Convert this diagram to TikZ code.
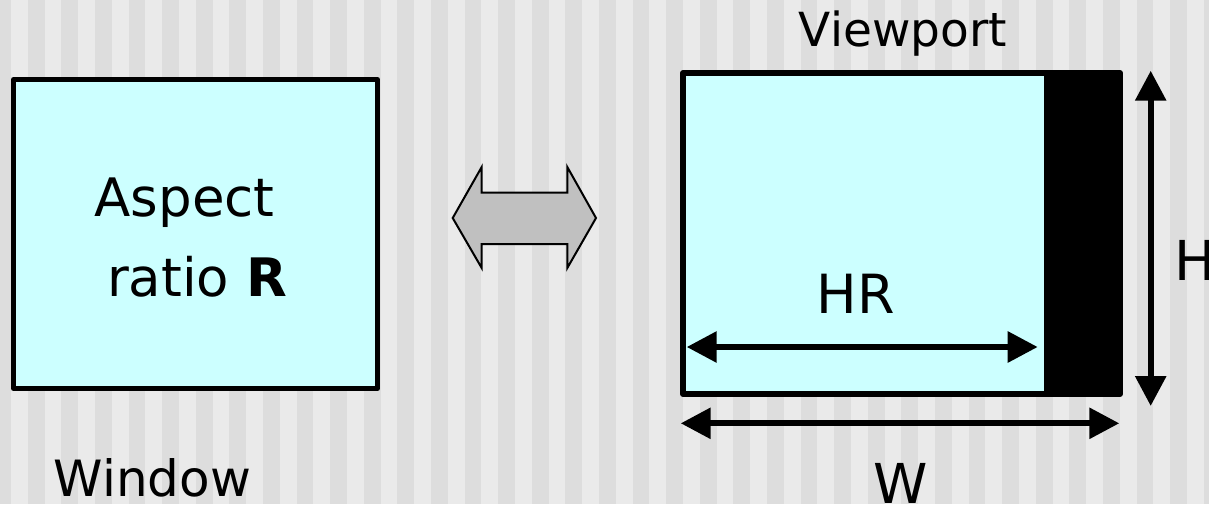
\documentclass[tikz,border=0pt]{standalone}
\usepackage{fontspec}
\setmainfont{DejaVu Sans}
\usetikzlibrary{arrows.meta}
\definecolor{stripeA}{HTML}{DDDDDD}
\definecolor{stripeB}{HTML}{EAEAEA}
\definecolor{paneFill}{HTML}{CCFFFF}
\definecolor{swapFill}{HTML}{C0C0C0}
\tikzset{
  pane/.style={draw=black, fill=paneFill, line join=round, inner sep=0pt},
  txt/.style={inner sep=0pt, anchor=base, font=\fontsize{#1}{#1}\selectfont},
  dimarrow/.style={line width=6pt,
    {Triangle[length=30pt,width=30pt]}-{Triangle[length=30pt,width=30pt]}},
}
\begin{document}
\begin{tikzpicture}[x=1pt,y=-1pt]
\useasboundingbox (0,0) rectangle (1209,504);
% striped backdrop
\fill[stripeA] (0,0) rectangle (1209,504);
\foreach \k in {0,...,35}
  \fill[stripeB] ({11+33.6*\k},0) rectangle ({27.8+33.6*\k},504);

% window
\node[pane, line width=5pt, minimum width=364pt, minimum height=309pt] (win) at (195.5,234) {};
\node[txt=53] (aspect) at (184.5,216) {Aspect};
\node[txt=53] (ratio) at (197,296) {ratio \textbf{R}};
\node[txt=50] (winlabel) at (152.5,496) {Window};

% two-way mapping arrow
\draw[fill=swapFill, line width=2pt, line join=miter]
  (452.7,218) -- (481.7,167) -- (481.7,192.7) -- (567.3,192.7) -- (567.3,167)
  -- (596,218) -- (567.3,268) -- (567.3,244) -- (481.7,244) -- (481.7,268) -- cycle;

% viewport with unused black strip
\node[pane, line width=6pt, minimum width=437pt, minimum height=321pt] (vp) at (901.5,233.5) {};
\fill[black] (1044,73) rectangle (1120,394);
\node[txt=47] (vplabel) at (902.9,46.7) {Viewport};

% dimensions
\coordinate (hrL) at (686.7,347);
\coordinate (hrR) at (1037.7,347);
\draw[dimarrow] (hrL) -- (hrR);
\node[txt=54] (hr) at (855.8,313.3) {HR};

\coordinate (wL) at (680.7,423.3);
\coordinate (wR) at (1119.3,423.3);
\draw[dimarrow] (wL) -- (wR);
\node[txt=55] (wlabel) at (901,503.3) {W};

\coordinate (hT) at (1150.7,70.7);
\coordinate (hB) at (1150.7,406);
\draw[dimarrow] (hT) -- (hB);
\node[txt=55, anchor=base west] (hlabel) at (1174,280.7) {H};
\end{tikzpicture}
\end{document}
